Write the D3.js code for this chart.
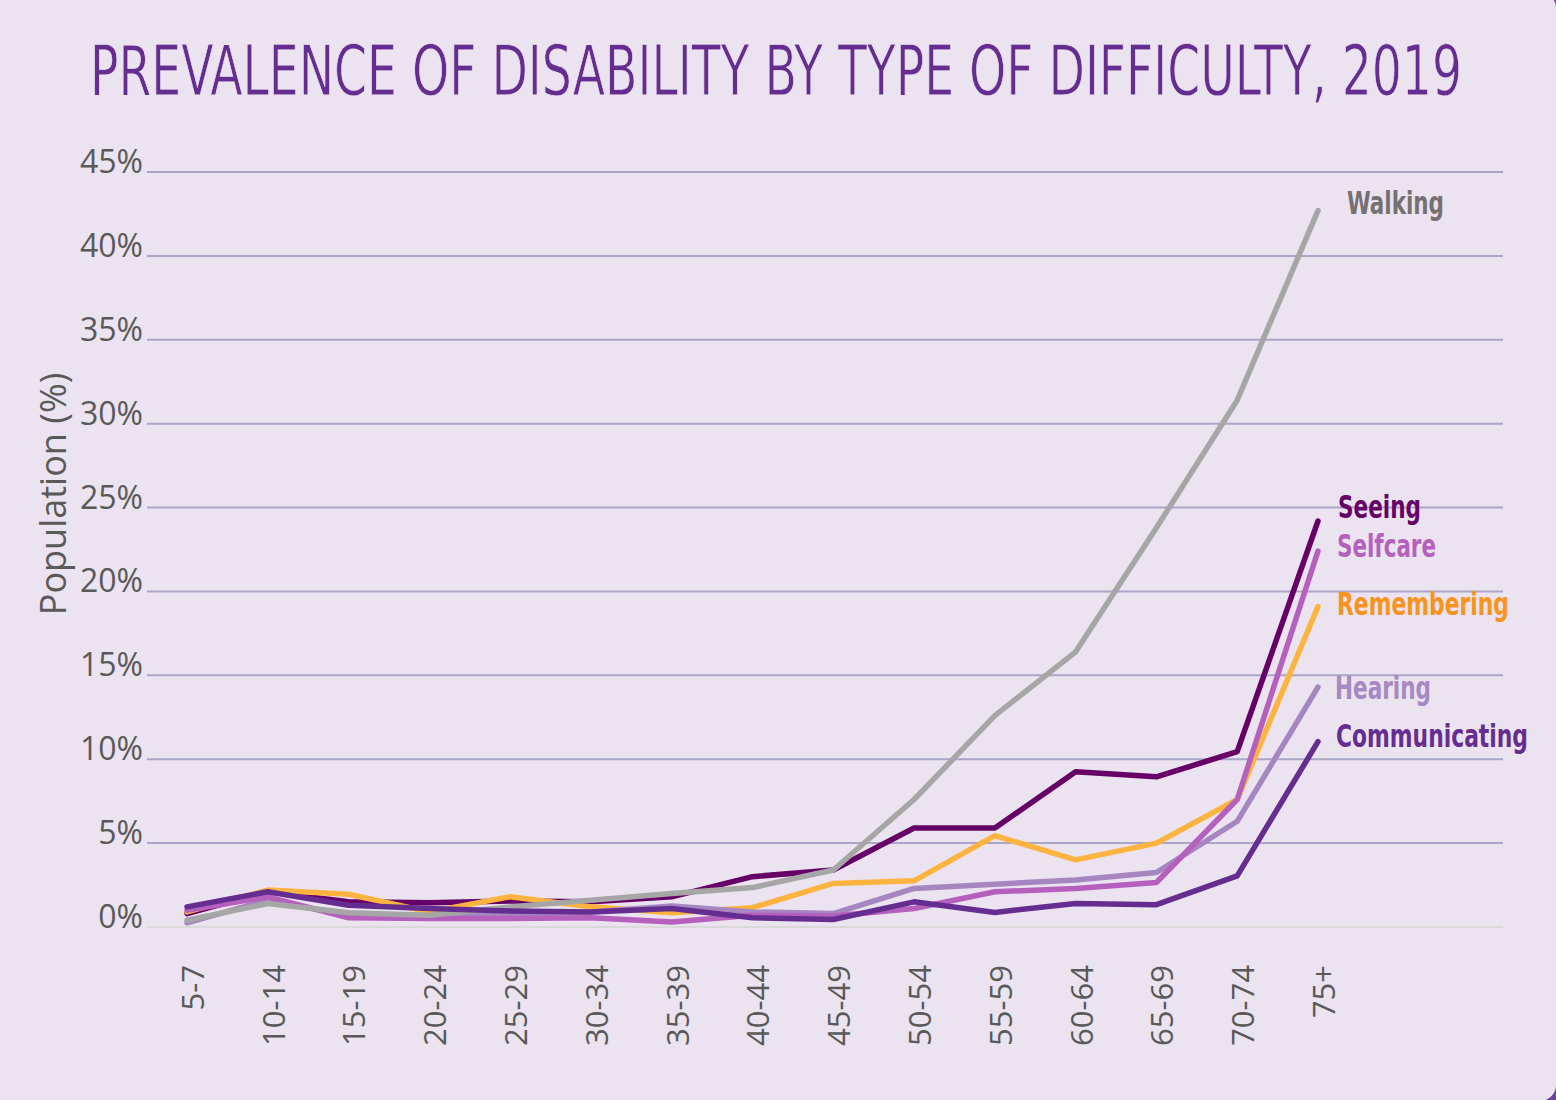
<!DOCTYPE html>
<html>
<head>
<meta charset="utf-8">
<script src="https://cdn.jsdelivr.net/npm/d3@7"></script>
<style>
  html, body { margin: 0; padding: 0; background: #6b3fa0; }
  svg { display: block; }
</style>
</head>
<body>
<svg id="chart" width="1556" height="1100"></svg>
<script>
// ---- Data ----
const categories = ["5-7","10-14","15-19","20-24","25-29","30-34","35-39","40-44","45-49","50-54","55-59","60-64","65-69","70-74","75+"];
const walking       = [0.4, 1.4, 0.85, 0.7, 1.2, 1.6, 2.0, 2.35, 3.4, 7.6, 12.6, 16.4, 23.8, 31.4, 42.7];
const seeing        = [0.8, 2.1, 1.5, 1.45, 1.55, 1.5, 1.8, 3.0, 3.4, 5.9, 5.9, 9.25, 8.95, 10.45, 24.2];
const selfcare      = [1.0, 1.8, 0.55, 0.5, 0.5, 0.55, 0.3, 0.7, 0.65, 1.1, 2.1, 2.3, 2.65, 7.6, 22.4];
const remembering   = [0.9, 2.2, 1.95, 0.9, 1.8, 1.2, 0.85, 1.15, 2.6, 2.75, 5.45, 4.0, 5.0, 7.6, 19.1];
const hearing       = [0.25, 1.6, 0.7, 0.65, 0.75, 0.9, 1.25, 0.9, 0.8, 2.3, 2.55, 2.8, 3.25, 6.3, 14.3];
const communicating = [1.2, 2.1, 1.3, 1.1, 0.95, 0.9, 1.1, 0.55, 0.45, 1.5, 0.87, 1.4, 1.33, 3.05, 11.05];
const yTicks = [0, 5, 10, 15, 20, 25, 30, 35, 40, 45];
const titleText = "PREVALENCE OF DISABILITY BY TYPE OF DIFFICULTY, 2019";
const yTitle = "Population (%)";

// series drawn bottom -> top
const series = [
  { name: "Seeing",        values: seeing,        line: "#660066", label: "#660066" },
  { name: "Remembering",   values: remembering,   line: "#fdb33f", label: "#f7941d" },
  { name: "Hearing",       values: hearing,       line: "#a586c0", label: "#a688c2" },
  { name: "Selfcare",      values: selfcare,      line: "#b660be", label: "#b660be" },
  { name: "Walking",       values: walking,       line: "#a6a6a6", label: "#767171" },
  { name: "Communicating", values: communicating, line: "#662d91", label: "#662d91" }
];
// label layout (position/size only)
const labelLayout = {
  Walking:       { x: 1347, y: 214, w: 97 },
  Seeing:        { x: 1338, y: 518, w: 83 },
  Selfcare:      { x: 1337, y: 557, w: 99 },
  Remembering:   { x: 1337, y: 615, w: 172 },
  Hearing:       { x: 1335, y: 699, w: 96 },
  Communicating: { x: 1336, y: 747, w: 192 }
};

const svg = d3.select("#chart");

// card background with rounded right corners
svg.append("rect")
  .attr("x", -40).attr("y", -8)
  .attr("width", 1596).attr("height", 1109)
  .attr("rx", 16).attr("ry", 16)
  .attr("fill", "#ebe3f0");

// title
svg.append("text")
  .attr("x", 90).attr("y", 95)
  .attr("textLength", 1372)
  .attr("lengthAdjust", "spacingAndGlyphs")
  .style("font-family", "'Liberation Sans Narrow', 'DejaVu Sans Condensed', sans-serif")
  .style("font-size", "69px")
  .style("fill", "#662d91")
  .style("stroke", "#ebe3f0")
  .style("stroke-width", "0.8px")
  .text(titleText);

const x = d3.scalePoint().domain(categories).range([187, 1318]);
const y = d3.scaleLinear().domain([0, 45]).range([927, 172]);

const gridLeft = 147, gridRight = 1503;

// gridlines
svg.append("g").selectAll("line")
  .data(yTicks)
  .join("line")
  .attr("x1", gridLeft).attr("x2", gridRight)
  .attr("y1", d => y(d)).attr("y2", d => y(d))
  .attr("stroke", d => d === 0 ? "#d9d9d9" : "#a9a6c8")
  .attr("stroke-width", 2);

// y tick labels
svg.append("g").selectAll("text")
  .data(yTicks)
  .join("text")
  .attr("x", 143)
  .attr("y", d => y(d) + 1)
  .attr("text-anchor", "end")
  .style("font-family", "'Open Sans', sans-serif")
  .style("font-size", "32px")
  .style("fill", "#595959")
  .text(d => d + "%");

// y axis title
svg.append("text")
  .attr("transform", "translate(66,494) rotate(-90)")
  .attr("text-anchor", "middle")
  .style("font-family", "'Open Sans', sans-serif")
  .style("font-size", "36px")
  .style("fill", "#595959")
  .text(yTitle);

// x tick labels
svg.append("g").selectAll("text")
  .data(categories)
  .join("text")
  .attr("transform", d => `translate(${x(d) + 6},965) rotate(-90)`)
  .attr("text-anchor", "end")
  .attr("dy", "0.35em")
  .style("font-family", "'Open Sans', sans-serif")
  .style("font-size", "31px")
  .style("fill", "#595959")
  .text(d => d);

// lines
const line = d3.line()
  .x((d, i) => x(categories[i]))
  .y(d => y(d));

svg.append("g").selectAll("path")
  .data(series)
  .join("path")
  .attr("d", s => line(s.values))
  .attr("fill", "none")
  .attr("stroke", s => s.line)
  .attr("stroke-width", 5.5)
  .attr("stroke-linejoin", "round")
  .attr("stroke-linecap", "round");

// series labels
svg.append("g").selectAll("text")
  .data(series)
  .join("text")
  .attr("x", s => labelLayout[s.name].x)
  .attr("y", s => labelLayout[s.name].y)
  .attr("textLength", s => labelLayout[s.name].w)
  .attr("lengthAdjust", "spacingAndGlyphs")
  .style("font-family", "'Liberation Sans Narrow', 'DejaVu Sans Condensed', sans-serif")
  .style("font-weight", "bold")
  .style("font-size", "32px")
  .style("fill", s => s.label)
  .text(s => s.name);
</script>
</body>
</html>
